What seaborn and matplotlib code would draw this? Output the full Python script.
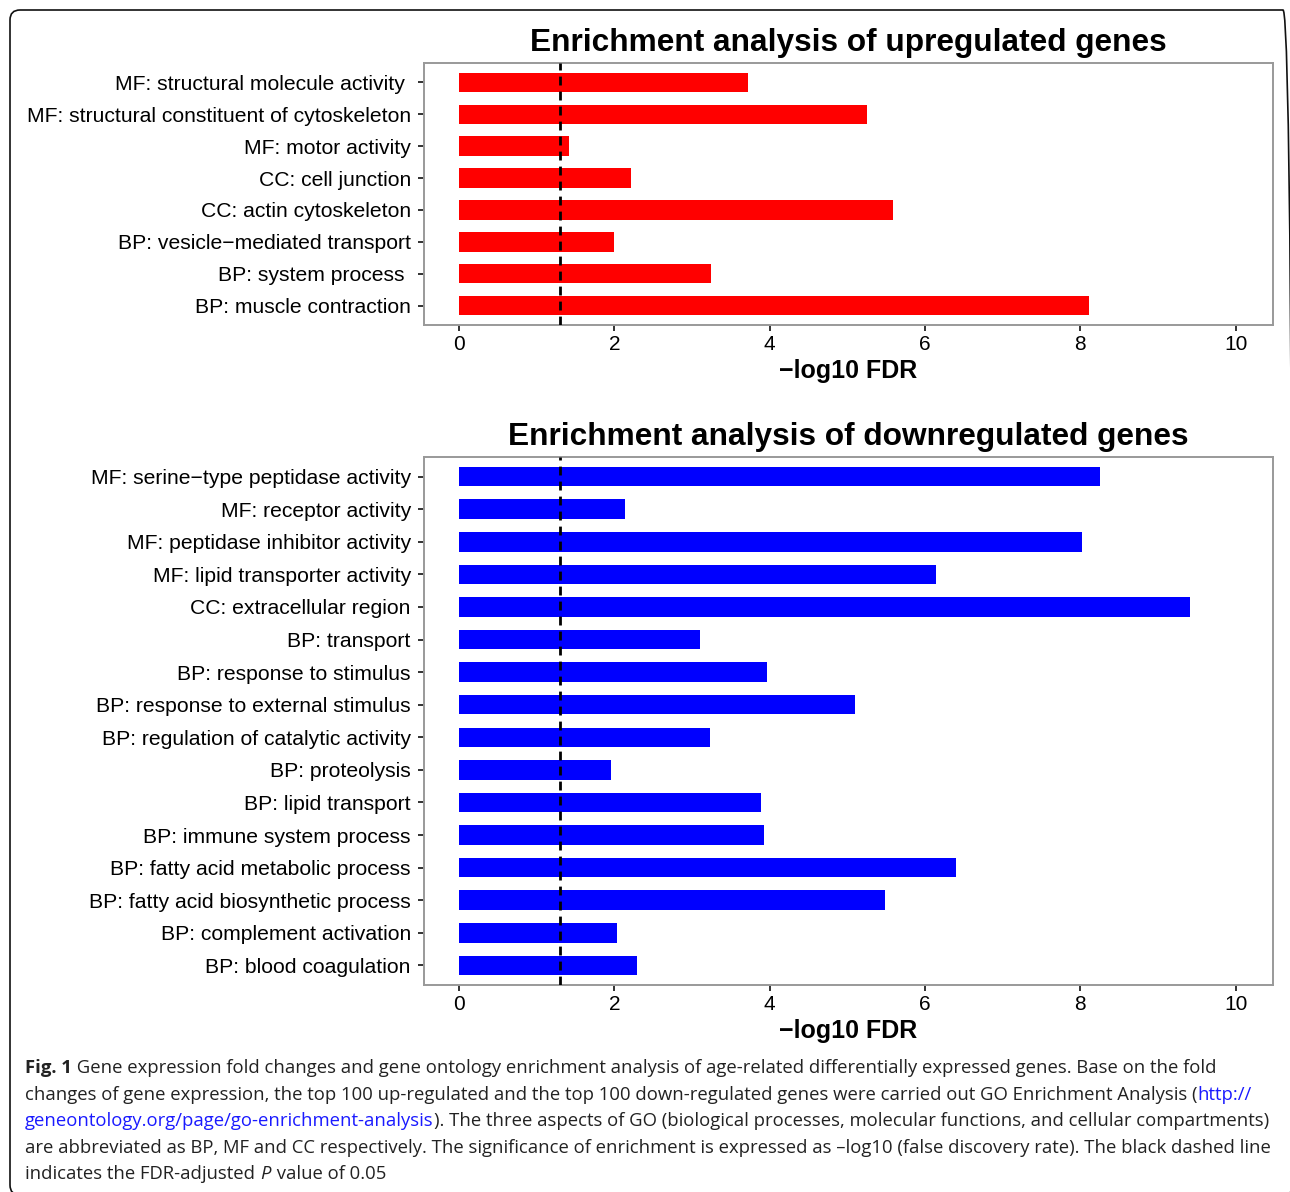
import matplotlib
matplotlib.use("Agg")
import matplotlib.pyplot as plt
import seaborn as sns
import pandas as pd
from matplotlib.patches import FancyBboxPatch
from matplotlib.transforms import IdentityTransform

# ---------------- data ----------------
up_terms = [
    "MF: structural molecule activity ",
    "MF: structural constituent of cytoskeleton",
    "MF: motor activity",
    "CC: cell junction",
    "CC: actin cytoskeleton",
    "BP: vesicle\u2212mediated transport",
    "BP: system process ",
    "BP: muscle contraction",
]
up_values = [3.72, 5.25, 1.42, 2.21, 5.59, 1.99, 3.24, 8.11]

down_terms = [
    "MF: serine\u2212type peptidase activity",
    "MF: receptor activity",
    "MF: peptidase inhibitor activity",
    "MF: lipid transporter activity",
    "CC: extracellular region",
    "BP: transport",
    "BP: response to stimulus",
    "BP: response to external stimulus",
    "BP: regulation of catalytic activity",
    "BP: proteolysis",
    "BP: lipid transport",
    "BP: immune system process",
    "BP: fatty acid metabolic process",
    "BP: fatty acid biosynthetic process",
    "BP: complement activation",
    "BP: blood coagulation",
]
down_values = [8.25, 2.14, 8.02, 6.14, 9.41, 3.10, 3.96, 5.10, 3.23, 1.96,
               3.89, 3.93, 6.40, 5.48, 2.03, 2.29]

titles = ["Enrichment analysis of upregulated genes",
          "Enrichment analysis of downregulated genes"]
xlabel = "\u2212log10 FDR"
x_ticks = [0, 2, 4, 6, 8, 10]
fdr_cut = 1.301  # -log10(0.05)

# ---------------- style ----------------
sns.set_theme(style="white")
plt.rcParams["font.family"] = ["Liberation Sans", "DejaVu Sans"]
plt.rcParams["text.color"] = "black"
plt.rcParams["axes.labelcolor"] = "black"
plt.rcParams["xtick.color"] = "black"
plt.rcParams["ytick.color"] = "black"
NARROW = ["Liberation Sans Narrow", "Liberation Sans", "DejaVu Sans"]

W, H = 1290, 1192
fig = plt.figure(figsize=(W / 100, H / 100), dpi=100)
fig.patch.set_facecolor("white")


def px_axes(left, top, right, bottom):
    return fig.add_axes([left / W, 1 - bottom / H, (right - left) / W, (bottom - top) / H])


ax1 = px_axes(424, 63, 1273, 325)
ax2 = px_axes(424, 457, 1273, 985)

for ax, terms, vals, color, title in [
    (ax1, up_terms, up_values, "#FF0000", titles[0]),
    (ax2, down_terms, down_values, "#0000FF", titles[1]),
]:
    df = pd.DataFrame({"term": terms, "value": vals})
    sns.barplot(data=df, x="value", y="term", orient="h", color=color,
                width=0.6, saturation=1, ax=ax, linewidth=0, order=terms)
    n = len(terms)
    ax.set_ylim(n - 0.4, -0.6)
    ax.set_xlim(-0.45, 10.48)
    ax.axvline(fdr_cut, color="black", linestyle=(0, (3.2, 2.2)), linewidth=2.0, zorder=5)
    ax.set_xticks(x_ticks)
    ax.set_xticklabels([str(t) for t in x_ticks], family=NARROW, fontsize=15, color="black")
    ax.set_ylabel("")
    ax.set_xlabel(xlabel, family=NARROW, fontsize=18, fontweight="bold", labelpad=3,
                  color="black")
    ax.set_title(title, family=NARROW, fontsize=22.8, fontweight="bold", pad=8.5,
                 color="black")
    for lab in ax.get_yticklabels():
        lab.set_fontsize(15.2)
        lab.set_color("black")
    ax.tick_params(axis="both", which="both", length=4.5, width=1.3, color="#222222",
                   left=True, bottom=True)
    ax.tick_params(axis="y", pad=5)
    ax.tick_params(axis="x", pad=3)
    for sp in ax.spines.values():
        sp.set_visible(True)
        sp.set_color("#999999")
        sp.set_linewidth(1.4)
    ax.grid(False)

# ---------------- outer rounded border ----------------
border = FancyBboxPatch((10, -3), 1283, 1185, boxstyle="round,pad=0,rounding_size=10",
                        transform=IdentityTransform(), fill=False, edgecolor="#111111",
                        linewidth=1.2)
fig.patches.append(border)

# ---------------- caption ----------------
CAP = ["Open Sans", "DejaVu Sans"]
blue = "#1a1aff"
cap_lines = [
    [("Fig. 1", {"fontweight": "bold"}),
     (" Gene expression fold changes and gene ontology enrichment analysis of age-related differentially expressed genes. Base on the fold", {})],
    [("changes of gene expression, the top 100 up-regulated and the top 100 down-regulated genes were carried out GO Enrichment Analysis (", {}),
     ("http://", {"color": blue})],
    [("geneontology.org/page/go-enrichment-analysis", {"color": blue}),
     ("). The three aspects of GO (biological processes, molecular functions, and cellular compartments)", {})],
    [("are abbreviated as BP, MF and CC respectively. The significance of enrichment is expressed as \u2013log10 (false discovery rate). The black dashed line", {})],
    [("indicates the FDR-adjusted ", {}), ("P", {"fontstyle": "italic"}), (" value of 0.05", {})],
]

renderer = fig.canvas.get_renderer()


def text_width(s, size, kw):
    a = fig.text(0, 0, "|" + s + "|", fontsize=size, family=CAP, **kw)
    b = fig.text(0, 0, "||", fontsize=size, family=CAP, **kw)
    w = a.get_window_extent(renderer).width - b.get_window_extent(renderer).width
    a.remove()
    b.remove()
    return w


# fit line 4 to its width in the reference
ref_w = 1243
w10 = text_width(cap_lines[3][0][0], 10, {})
cap_size = 10 * ref_w / w10

baselines = [1073, 1100, 1126, 1153, 1179]
for line, yb in zip(cap_lines, baselines):
    x = 25
    for s, kw in line:
        kw2 = dict(kw)
        color = kw2.pop("color", "#222222")
        fig.text(x / W, 1 - yb / H, s, fontsize=cap_size, family=CAP, color=color,
                 va="baseline", ha="left", **kw2)
        x += text_width(s, cap_size, kw2) + (2 if kw2.get("fontstyle") == "italic" else 0)

fig.savefig("out.png", dpi=100, facecolor="white")
